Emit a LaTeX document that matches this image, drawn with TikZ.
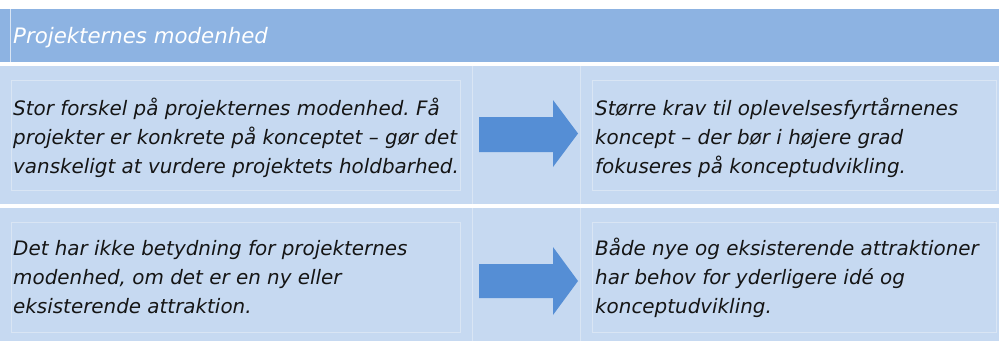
\documentclass[tikz,border=0pt]{standalone}
\usepackage{fontspec}
\setmainfont{DejaVu Sans}
\frenchspacing
\definecolor{hdr}{HTML}{8DB3E2}
\definecolor{rowc}{HTML}{C6D9F1}
\definecolor{arr}{HTML}{558ED5}
\definecolor{faint}{HTML}{D9E5F4}
\definecolor{txt}{HTML}{151515}
\begin{document}
\begin{tikzpicture}[x=1pt,y=-1pt,
  body/.style={anchor=base west,inner sep=0pt,align=left,text=txt,
    font=\fontsize{19.9}{29}\selectfont\itshape},
  hdrtext/.style={anchor=base west,inner sep=0pt,text=white,
    font=\fontsize{21.3}{26}\selectfont\itshape},
  faintline/.style={draw=faint,line width=0.8pt},
  arrowshape/.style={fill=arr}]
\useasboundingbox (0,0) rectangle (999,341);
\fill[white] (0,0) rectangle (999,341);
% bands
\fill[hdr] (0,9) rectangle (999,62);
\fill[rowc] (0,66) rectangle (999,204);
\fill[rowc] (0,208) rectangle (999,341);
% faint lines
\draw[faintline] (10,9) -- (10,62);
\draw[faintline] (472,66) -- (472,204);
\draw[faintline] (580,66) -- (580,204);
\draw[faintline] (472,208) -- (472,341);
\draw[faintline] (580,208) -- (580,341);
\draw[faintline] (11,80) rectangle (460,190);
\draw[faintline] (592,80) rectangle (996,190);
\draw[faintline] (11,222) rectangle (460,332);
\draw[faintline] (592,222) rectangle (996,332);
% header
\node[hdrtext] (h) at (13,43) {Projekternes modenhed};
% row 1 (base anchor = last line's baseline)
\node[body] (l1) at (13,173) {Stor forskel på projekternes modenhed. Få\\projekter er konkrete på konceptet – gør det\\vanskeligt at vurdere projektets holdbarhed.};
\node[body] (r1) at (595,173) {Større krav til oplevelsesfyrtårnenes\\koncept – der bør i højere grad\\fokuseres på konceptudvikling.};
% row 2
\node[body] (l2) at (13,313) {Det har ikke betydning for projekternes\\modenhed, om det er en ny eller\\eksisterende attraktion.};
\node[body] (r2) at (595,313) {Både nye og eksisterende attraktioner\\har behov for yderligere idé og\\konceptudvikling.};
% arrows
\fill[arrowshape] (479,117) -- (553,117) -- (553,100) -- (578,133.5) -- (553,167) -- (553,152) -- (479,152) -- cycle;
\fill[arrowshape] (479,264) -- (553,264) -- (553,247) -- (578,281) -- (553,315) -- (553,298) -- (479,298) -- cycle;
\end{tikzpicture}
\end{document}
